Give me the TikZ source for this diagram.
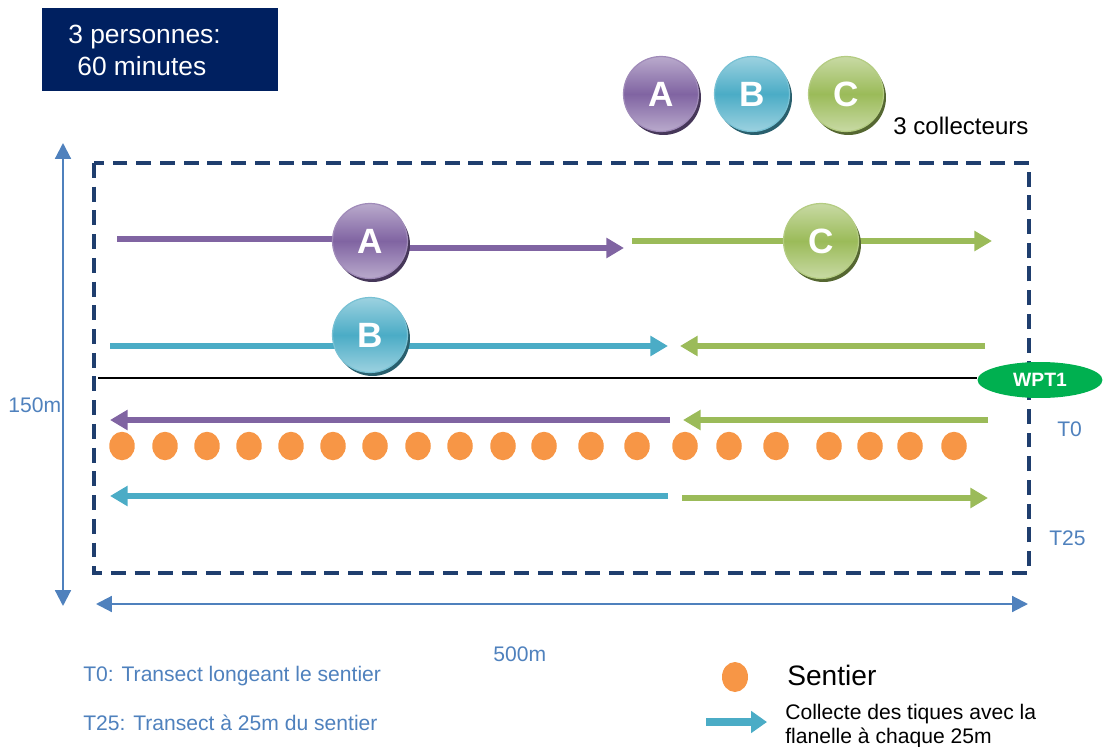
\documentclass[tikz,border=0pt]{standalone}
\usepackage{fontspec}
\setmainfont{Liberation Sans}
\usetikzlibrary{arrows.meta,shadows,shapes.geometric,backgrounds,positioning}

\definecolor{violetA}{HTML}{8064A2}
\definecolor{bleuB}{HTML}{4BACC6}
\definecolor{vertC}{HTML}{9BBB59}
\definecolor{orangeS}{HTML}{F79646}
\definecolor{marine}{HTML}{1F3E6E}
\definecolor{titrefond}{HTML}{002060}
\definecolor{cote}{HTML}{4F81BD}
\definecolor{wptvert}{HTML}{00B050}

\tikzset{
    collecteur/.style={circle, inner sep=0pt, minimum size=1.5cm,
        draw=#1!75!white, line width=0.7pt,
        top color=#1!55!white, bottom color=#1!55!white, middle color=#1,
        text=white, font=\bfseries\fontsize{20pt}{22pt}\selectfont,
        drop shadow={shadow xshift=0.05cm, shadow yshift=-0.07cm,
            fill=#1!55!black, opacity=1}},
    trait/.style={draw=#1, line width=3.4pt},
    fleche/.style={draw=#1, line width=3.4pt, -{Triangle[length=10pt,width=11pt]}},
    point/.style={ellipse, fill=orangeS, inner sep=0pt,
        minimum width=0.51cm, minimum height=0.57cm},
    cotation/.style={draw=cote, line width=1.2pt,
        {Triangle[length=9pt,width=9pt]}-{Triangle[length=9pt,width=9pt]}},
    bleutexte/.style={text=cote, inner sep=0pt, anchor=base west,
        font=\fontsize{12pt}{14pt}\selectfont},
    noirtexte/.style={text=black, inner sep=0pt, anchor=base west,
        font=\fontsize{12pt}{14pt}\selectfont},
    cadre/.style={draw=marine, line width=1.8pt, dash pattern=on 8.5pt off 5pt}
}

\begin{document}
\begin{tikzpicture}[x=0.02cm, y=-0.02cm]
    \useasboundingbox (0,0) rectangle (1103,747);

    % titre
    \node[fill=titrefond, anchor=north west, inner sep=0pt,
        minimum width=4.72cm, minimum height=1.66cm] (titre) at (42,8) {};
    \node[text=white, inner sep=0pt, anchor=base west,
        font=\fontsize{15pt}{17pt}\selectfont] (personnes) at (68,43) {3 personnes:};
    \node[text=white, inner sep=0pt, anchor=base west,
        font=\fontsize{15pt}{17pt}\selectfont] (minutes) at (77,75) {60 minutes};

    % les 3 collecteurs
    \node[collecteur=violetA] (colA) at (661,94) {A};
    \node[collecteur=bleuB] (colB) at (752,94) {B};
    \node[collecteur=vertC] (colC) at (846,94) {C};
    \node[noirtexte, font=\fontsize{13.7pt}{15pt}\selectfont] (trois) at (893,134) {3 collecteurs};

    % zone
    \draw[cadre] (94,163) rectangle (1029,573);

    % cotes
    \coordinate (h0) at (63,143);
    \coordinate (h1) at (63,606);
    \draw[cotation] (h0) -- (h1);
    \node[bleutexte] (haut) at (8,412) {150m};
    \coordinate (w0) at (96,604);
    \coordinate (w1) at (1028,604);
    \draw[cotation] (w0) -- (w1);
    \node[bleutexte] (large) at (493,661) {500m};

    % point de depart
    \node[ellipse, fill=wptvert, text=white, inner sep=0pt,
        minimum width=2.5cm, minimum height=0.72cm,
        font=\bfseries\fontsize{11pt}{13pt}\selectfont] (wpt) at (1040,380) {WPT1};
    \coordinate (l0) at (98,378);
    \draw[line width=0.8pt] (l0) -- (l0 -| wpt.west);

    % collecteurs sur les transects
    \node[collecteur=violetA] (A1) at (370,241) {A};
    \node[collecteur=vertC] (C1) at (821,241) {C};
    \node[collecteur=bleuB] (B1) at (370,335) {B};

    \coordinate (a0) at (117,239);
    \coordinate (a1) at (624,248);
    \coordinate (c0) at (632,241);
    \coordinate (c1) at (992,241);
    \coordinate (b0) at (110,346);
    \coordinate (b1) at (668,346);
    \begin{scope}[on background layer]
        \draw[trait=violetA] (a0) -- (a0 -| A1.center);
        \draw[fleche=violetA] (A1.center |- a1) -- (a1);
        \draw[trait=vertC] (c0) -- (C1.center);
        \draw[fleche=vertC] (C1.center) -- (c1);
        \draw[fleche=bleuB] (b0) -- (b1);
    \end{scope}

    \coordinate (g2a) at (985,346);
    \coordinate (g2b) at (680,346);
    \draw[fleche=vertC] (g2a) -- (g2b);

    % T0
    \coordinate (p3a) at (670,420);
    \coordinate (p3b) at (110,420);
    \draw[fleche=violetA] (p3a) -- (p3b);
    \coordinate (g3a) at (988,420);
    \coordinate (g3b) at (683,420);
    \draw[fleche=vertC] (g3a) -- (g3b);
    \node[bleutexte] (t0) at (1057,436) {T0};

    % sentier
    \foreach \x in {122,165,207,249,291,333,375,418,460,503,544,591,637,685,729,776,829,870,910,954}
        \node[point] (s\x) at (\x,446) {};

    % T25
    \coordinate (b4a) at (668,496);
    \coordinate (b4b) at (110,496);
    \draw[fleche=bleuB] (b4a) -- (b4b);
    \coordinate (g4a) at (682,498);
    \coordinate (g4b) at (988,498);
    \draw[fleche=vertC] (g4a) -- (g4b);
    \node[bleutexte] (t25) at (1049,545) {T25};

    % legende
    \node[bleutexte] (legT0) at (83,681) {T0: Transect longeant le sentier};
    \node[bleutexte] (legT25) at (83,730) {T25: Transect à 25m du sentier};
    \node[point, minimum width=0.52cm, minimum height=0.6cm] (legS) at (735,677) {};
    \node[noirtexte, font=\fontsize{16pt}{18pt}\selectfont] (sentier) at (787,685) {Sentier};
    \coordinate (la0) at (706,722);
    \coordinate (la1) at (767,722);
    \draw[draw=bleuB, line width=4.5pt, -{Triangle[length=9pt,width=12pt]}] (la0) -- (la1);
    \node[noirtexte] (collecte) at (785,719) {Collecte des tiques avec la};
    \node[noirtexte] (flanelle) at (785,743) {flanelle à chaque 25m};
\end{tikzpicture}
\end{document}
